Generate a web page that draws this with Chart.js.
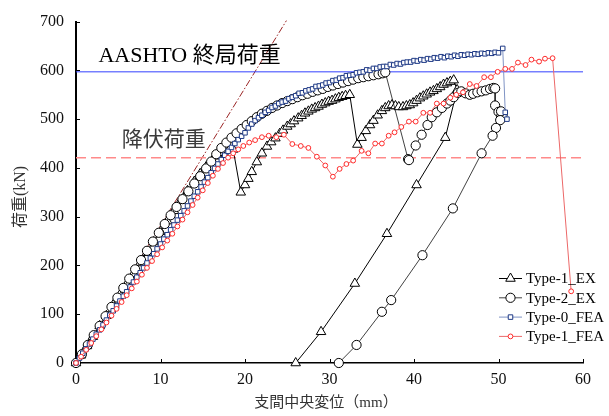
<!DOCTYPE html>
<html><head><meta charset="utf-8">
<script src="https://cdn.jsdelivr.net/npm/chart.js@4/dist/chart.umd.min.js"></script>
<style>html,body{margin:0;padding:0;background:#fff;}#wrap{width:609px;height:416px;}</style>
</head><body><div id="wrap"><canvas id="c" width="609" height="416"></canvas></div>
<script>
const FONT = "'Liberation Serif','Noto Sans CJK JP',serif";
const xTicks = [0,10,20,30,40,50,60];
const yTicks = [0,100,200,300,400,500,600,700];
const seriesNames = ['Type-1_EX','Type-2_EX','Type-0_FEA','Type-1_FEA'];
const xTitle = '支間中央変位（mm）';
const yTitle = '荷重(kN)';
const aashtoLabel = 'AASHTO 終局荷重';
const yieldLabel = '降伏荷重';
const aashtoLoad = 597;
const yieldLoad = 421;
const elasticLine = [[0,0],[24.9,702]];

const type1EX = [[0,0],[0.6,16],[1.3,35],[2.0,54],[2.8,76],[3.6,97],[4.4,119],[5.2,140],[6.0,162],[6.8,183],[7.6,205],[8.4,226],[9.2,248],[10.0,269],[10.8,291],[11.6,312],[12.4,333],[13.2,353],[14.0,372],[14.7,388],[15.4,402],[16.1,414],[16.8,424],[17.5,431],[18.1,436],[18.6,438],
[19.5,350],[20.0,365],[20.4,378],[20.8,392],[21.4,412],[22.0,430],[22.6,444],[23.1,453],[23.6,461],[24.1,470],[24.5,477],[25.0,485],[25.4,490],[25.8,496],[26.3,502],[26.7,507],[27.1,512],[27.5,516],[27.9,520],[28.3,523],[28.7,526],[29.1,530],[29.5,533],[29.9,536],[30.3,538],[30.7,541],[31.1,544],[31.5,546],[31.9,548],[32.4,550],
[33.3,448],[33.8,462],[34.3,476],[34.8,488],[35.2,497],[35.7,508],[36.2,517],[36.6,523],[37.0,527],[37.4,529],[37.8,527],[38.2,525],[38.7,525],[39.1,527],[39.5,529],[39.9,533],[40.3,538],[40.7,543],[41.1,547],[41.5,551],[41.9,555],[42.3,558],[42.7,562],[43.1,566],[43.5,571],[43.9,574],[44.3,577],[44.7,580],[45.1,560],
[43.7,462],[40.3,365],[36.8,265],[33.0,163],[29.0,64],[26.0,0]];

const type2EX = [[0,0],[0.7,18],[1.4,37],[2.1,57],[2.8,76],[3.5,96],[4.2,115],[4.9,134],[5.6,154],[6.3,173],[7.0,192],[7.7,211],[8.4,230],[9.1,249],[9.8,267],[10.5,285],[11.2,303],[11.9,320],[12.6,336],[13.3,352],[14.0,368],[14.7,383],[15.4,399],[16.0,413],[16.6,428],[17.2,441],[17.8,452],[18.4,462],[19.0,471],[19.6,480],[20.2,488],[20.8,496],[21.4,504],[22.0,511],[22.6,517],[23.2,523],[23.8,528],[24.4,533],[25.0,537],[25.6,541],[26.2,545],[26.8,549],[27.4,552],[28.0,556],[28.6,559],[29.2,562],[29.8,566],[30.4,569],[31.0,572],[31.6,575],[32.2,578],[32.8,581],[33.4,584],[34.0,586],[34.6,588],[35.2,590],[35.8,592],[36.3,594],[36.6,596],
[39.3,418],[39.4,416],[40.2,446],[40.9,468],[41.6,488],[42.1,504],[42.7,514],[43.3,523],[43.9,532],[44.3,538],[44.7,545],[45.2,554],[45.6,557],[46.1,553],[46.6,550],[47.0,552],[47.5,555],[48.0,557],[48.5,559],[49.0,562],[49.4,564],[49.6,563],[49.6,528],[50.0,515],[50.3,505],[50.5,510],[50.3,516],[50.2,498],[49.7,482],[49.3,466],[48.0,430],[44.6,317],[41.0,221],[37.3,129],[36.2,105],[33.2,37],[31.1,0]];

const type0FEA = [[0,0],[0.4,10],[0.8,20],[1.2,29],[1.6,39],[2.0,49],[2.4,59],[2.8,68],[3.2,78],[3.6,88],[4.0,98],[4.4,107],[4.8,117],[5.2,127],[5.6,137],[6.0,146],[6.4,156],[6.8,166],[7.2,176],[7.6,185],[8.0,195],[8.4,205],[8.8,215],[9.2,224],[9.6,234],[10.0,244],[10.4,254],[10.8,263],[11.2,273],[11.6,283],[12.0,293],[12.4,302],[12.8,312],[13.2,322],[13.6,332],[14.0,342],[14.4,351],[14.8,361],[15.2,371],[15.6,380],[16.0,390],[16.4,399],[16.8,408],[17.2,417],[17.6,426],[18.0,434],[18.4,442],[18.8,450],[19.2,458],[19.6,465],[20.0,472],[20.4,482],[20.8,490],[21.2,497],[21.6,503],[22.0,508],[22.4,514],[22.8,518],[23.2,524],[23.6,527],[24.0,532],[24.4,535],[24.8,537],[25.2,542],[25.6,545],[26.0,548],[26.4,553],[26.8,554],[27.2,558],[27.6,560],[28.0,562],[28.4,567],[28.8,568],[29.2,570],[29.6,574],[30.0,575],[30.4,579],[30.8,580],[31.2,584],[31.6,585],[32.0,589],[32.4,590],[32.8,591],[33.2,595],[33.6,596],[34.0,597],[34.4,601],[34.8,600],[35.2,604],[35.6,604],[36.0,607],[36.4,608],[36.8,608],[37.2,612],[37.6,611],[38.0,614],[38.4,613],[38.8,616],[39.2,617],[39.6,617],[40.0,620],[40.4,619],[40.8,622],[41.2,621],[41.6,624],[42.0,623],[42.4,626],[42.8,625],[43.2,628],[43.6,626],[44.0,629],[44.4,628],[44.8,631],[45.2,629],[45.6,632],[46.0,631],[46.4,633],[46.8,632],[47.2,634],[47.6,633],[48.0,635],[48.4,634],[48.8,636],[49.2,635],[49.6,637],[50.0,636],[50.5,645],[50.8,514],[51.0,500]];

const type1FEA = [[0,0],[0.6,13],[1.2,27],[1.8,41],[2.4,55],[3.0,69],[3.6,83],[4.2,97],[4.8,111],[5.4,125],[6.0,139],[6.6,153],[7.2,167],[7.8,181],[8.4,195],[9.0,209],[9.6,223],[10.2,237],[10.8,251],[11.4,265],[12.0,280],[12.6,294],[13.2,309],[13.8,324],[14.4,339],[15.0,354],[15.6,369],[16.2,384],[16.8,398],[17.4,410],[18.0,421],[18.6,430],[19.2,438],[19.8,445],[20.5,452],[21.2,457],[22.0,463],[22.8,466],[23.7,463],[24.6,468],[25.6,449],[26.6,445],[27.5,441],[28.5,423],[29.5,405],[30.4,382],[31.2,398],[32.0,408],[32.8,415],[33.8,435],[34.6,430],[35.4,450],[36.2,450],[37.0,466],[37.7,473],[38.5,484],[39.4,495],[40.2,495],[41.1,513],[41.9,513],[42.7,532],[43.5,532],[44.3,544],[45.0,550],[45.8,555],[46.6,572],[47.4,568],[48.3,586],[49.1,586],[49.9,597],[50.8,603],[51.6,603],[52.3,616],[53.2,611],[53.9,622],[54.8,618],[55.5,624],[56.4,625],[58.6,147]];

const pts = a => a.map(p => ({x: p[0], y: p[1]}));

const styles = [
  {name: seriesNames[0], marker:'triangle', r:5.5, stroke:'#000', fill:'#fff', line:'#000', lw:1},
  {name: seriesNames[1], marker:'circle', r:4.6, stroke:'#000', fill:'#fff', line:'#111', lw:0.8},
  {name: seriesNames[2], marker:'rect', r:3.2, stroke:'#1f3a86', fill:'#fff', line:'#7f93c4', lw:1},
  {name: seriesNames[3], marker:'circle', r:2.4, stroke:'#ff2a2a', fill:'#fff', line:'#ec6868', lw:1}
];
const seriesData = [type1EX, type2EX, type0FEA, type1FEA];

const datasets = [];
seriesData.forEach((d, i) => {
  const s = styles[i];
  datasets.push({
    label: s.name, data: pts(d), showLine: true, order: 4 - i,
    borderColor: s.line, borderWidth: s.lw, tension: 0,
    pointStyle: s.marker, pointRadius: s.r, pointBorderColor: s.stroke,
    pointBackgroundColor: s.fill, pointBorderWidth: 1, clip: false
  });
});
datasets.push({label:'aashto', data: pts([[0,aashtoLoad],[60,aashtoLoad]]), showLine:true, borderColor:'#3340ff', borderWidth:1, pointRadius:0, order:10});
datasets.push({label:'yield', data: pts([[0,yieldLoad],[60,yieldLoad]]), showLine:true, borderColor:'#ff8a8a', borderWidth:1.5, borderDash:[10,5], pointRadius:0, order:11});
datasets.push({label:'elastic', data: pts(elasticLine), showLine:true, borderColor:'#9a2424', borderWidth:1, borderDash:[7,2,1.5,2], pointRadius:0, order:12, clip:false});

function drawMarker(ctx, style, x, y, r, stroke, fill, lw){
  ctx.save(); ctx.beginPath(); ctx.lineWidth = lw; ctx.strokeStyle = stroke; ctx.fillStyle = fill;
  if (style === 'circle') ctx.arc(x, y, r, 0, Math.PI*2);
  else if (style === 'triangle') { ctx.moveTo(x, y - r); ctx.lineTo(x + r*0.866, y + r*0.5); ctx.lineTo(x - r*0.866, y + r*0.5); ctx.closePath(); }
  else { const s = r*Math.SQRT1_2; ctx.rect(x - s, y - s, 2*s, 2*s); }
  ctx.fill(); ctx.stroke(); ctx.restore();
}

const decor = {
  id: 'decor',
  afterDatasetsDraw(chart){
    const ctx = chart.ctx, xs = chart.scales.x, ys = chart.scales.y, a = chart.chartArea;
    ctx.save();
    // inward ticks
    ctx.strokeStyle = '#000'; ctx.lineWidth = 1;
    xTicks.forEach(v => { if (v === 0) return; const px = Math.round(xs.getPixelForValue(v)) + 0.5; ctx.beginPath(); ctx.moveTo(px, a.bottom); ctx.lineTo(px, a.bottom - 4); ctx.stroke(); });
    yTicks.forEach(v => { if (v === 0) return; const py = Math.round(ys.getPixelForValue(v)) + 0.5; ctx.beginPath(); ctx.moveTo(a.left, py); ctx.lineTo(a.left + 4, py); ctx.stroke(); });
    // annotations
    ctx.fillStyle = '#000'; ctx.font = '22px ' + FONT; ctx.textBaseline = 'alphabetic'; ctx.textAlign = 'left';
    ctx.fillText(aashtoLabel, xs.getPixelForValue(2.65), ys.getPixelForValue(617));
    ctx.fillStyle = '#3a3a3a'; ctx.font = '21px ' + FONT; ctx.textBaseline = 'middle';
    ctx.fillText(yieldLabel, xs.getPixelForValue(5.4), ys.getPixelForValue(457));
    // axis titles
    ctx.fillStyle = '#333'; ctx.font = '15px ' + FONT; ctx.textAlign = 'center'; ctx.textBaseline = 'middle';
    ctx.fillText(xTitle, 326, 403);
    ctx.save(); ctx.translate(21, 197); ctx.rotate(-Math.PI/2); ctx.font = '16px ' + FONT; ctx.fillText(yTitle, 0, 0); ctx.restore();
    // legend
    ctx.font = '15px ' + FONT; ctx.textAlign = 'left'; ctx.textBaseline = 'middle'; ctx.fillStyle = '#000';
    styles.forEach((s, i) => {
      const y = 278.5 + i*19.3;
      ctx.strokeStyle = s.line; ctx.lineWidth = s.lw; ctx.beginPath(); ctx.moveTo(499, y); ctx.lineTo(522, y); ctx.stroke();
      drawMarker(ctx, s.marker, 510.5, y, s.r, s.stroke, s.fill, 1);
      ctx.fillStyle = '#000'; ctx.fillText(s.name, 526, y + 1);
    });
    ctx.restore();
  }
};

Chart.defaults.font.family = FONT;
Chart.defaults.color = '#111';

new Chart(document.getElementById('c'), {
  type: 'scatter',
  data: { datasets },
  options: {
    responsive: false, animation: false, events: [], devicePixelRatio: 1,
    layout: { padding: { top: 13, right: 26, left: 0, bottom: 0 } },
    plugins: { legend: { display: false }, tooltip: { enabled: false } },
    scales: {
      x: {
        type: 'linear', min: 0, max: 60,
        afterBuildTicks: s => { s.ticks = xTicks.map(v => ({value: v})); },
        afterFit: s => { s.height = 53; },
        grid: { display: true, drawOnChartArea: false, drawTicks: false },
        border: { display: true, color: '#000', width: 1.5 },
        ticks: { font: { size: 16, family: FONT }, color: '#111', padding: 7, maxRotation: 0 }
      },
      y: {
        type: 'linear', min: 0, max: 700,
        afterBuildTicks: s => { s.ticks = yTicks.map(v => ({value: v})); },
        afterFit: s => { s.width = 76; },
        grid: { display: true, drawOnChartArea: false, drawTicks: false },
        border: { display: true, color: '#000', width: 2 },
        ticks: { font: { size: 16, family: FONT }, color: '#111', padding: 12 }
      }
    }
  },
  plugins: [decor]
});
</script></body></html>
